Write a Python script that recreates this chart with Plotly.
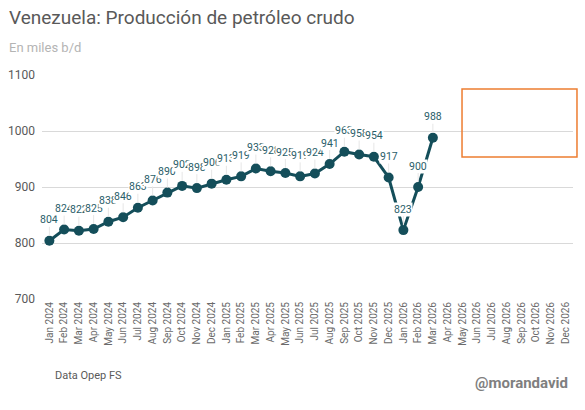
import plotly.graph_objects as go

# months shown on the axis (Jan 2024 .. Dec 2026)
month_names = ["Jan", "Feb", "Mar", "Apr", "May", "Jun",
               "Jul", "Aug", "Sep", "Oct", "Nov", "Dec"]
years = [2024, 2025, 2026]
months = [f"{m} {y}" for y in years for m in month_names]

# production, thousand barrels per day (Jan 2024 .. Mar 2026)
production = [804, 824, 822, 825, 838, 846, 863, 876, 890, 902, 898, 906,
              913, 919, 933, 928, 925, 919, 924, 941, 963, 958, 954, 917,
              823, 900, 988]

LINE_COLOR = "#144e5a"
GRAY = "#595959"

fig = go.Figure()

fig.add_trace(go.Scatter(
    x=months[:len(production)],
    y=production,
    mode="lines+markers",
    line=dict(color=LINE_COLOR, width=3),
    marker=dict(color=LINE_COLOR, size=10),
    hoverinfo="x+y",
    showlegend=False,
))

# data labels with thin leader lines, like the excel original
# (white box behind each label, later ones cover the earlier ones)
for m, v in zip(months, production):
    fig.add_annotation(
        x=m, y=v, text=str(v),
        showarrow=True, arrowhead=0, arrowwidth=1, arrowcolor="#e6e6e6",
        ax=0, ay=-21, standoff=5,
        font=dict(family="Roboto", size=10.5, color="#2a5e6a"),
        bgcolor="white",
        borderpad=0,
    )

fig.update_xaxes(
    type="category",
    categoryorder="array",
    categoryarray=months,
    range=[-0.5, len(months) - 0.5],
    tickangle=-90,
    tickfont=dict(family="Roboto", size=10, color="#6a6a6a"),
    showgrid=False,
    showline=False,
    ticks="",
    automargin=False,
    fixedrange=True,
)

fig.update_yaxes(
    range=[700, 1100],
    tickvals=[700, 800, 900, 1000, 1100],
    showgrid=True,
    gridcolor="#d9d9d9",
    gridwidth=1,
    zeroline=False,
    tickfont=dict(family="Roboto", size=12, color=GRAY),
    ticklabelstandoff=6,
    automargin=False,
    fixedrange=True,
)

# empty orange box on the right
fig.add_shape(type="rect", xref="paper", yref="paper",
              x0=0.791, x1=1.0075, y0=0.634, y1=0.9375,
              line=dict(color="#ed7d31", width=1.5))

fig.add_annotation(xref="paper", yref="paper", x=-0.065, y=1.255,
                   xanchor="left", yanchor="middle", showarrow=False,
                   text="Venezuela: Producción de petróleo crudo",
                   font=dict(family="Roboto", size=19, color=GRAY))
fig.add_annotation(xref="paper", yref="paper", x=-0.065, y=1.125,
                   xanchor="left", yanchor="middle", showarrow=False,
                   text="En miles b/d",
                   font=dict(family="Roboto", size=13, color="#b4b4b4"))
fig.add_annotation(xref="paper", yref="paper", x=0.02, y=-0.34,
                   xanchor="left", yanchor="middle", showarrow=False,
                   text="Data Opep FS",
                   font=dict(family="Roboto", size=11, color=GRAY))
fig.add_annotation(xref="paper", yref="paper", x=0.995, y=-0.375,
                   xanchor="right", yanchor="middle", showarrow=False,
                   text="<b>@morandavid</b>",
                   font=dict(family="Roboto", size=15, color="#7f7f7f"))

fig.update_layout(
    width=585, height=410,
    margin=dict(l=42, r=12, t=75, b=111),
    paper_bgcolor="white",
    plot_bgcolor="white",
    font=dict(family="Roboto"),
)

# page body has a default 8px margin, drop it so the chart fills the window
fig.write_html("out.html",
               config={"displayModeBar": False},
               post_script="document.body.style.margin='0';")
